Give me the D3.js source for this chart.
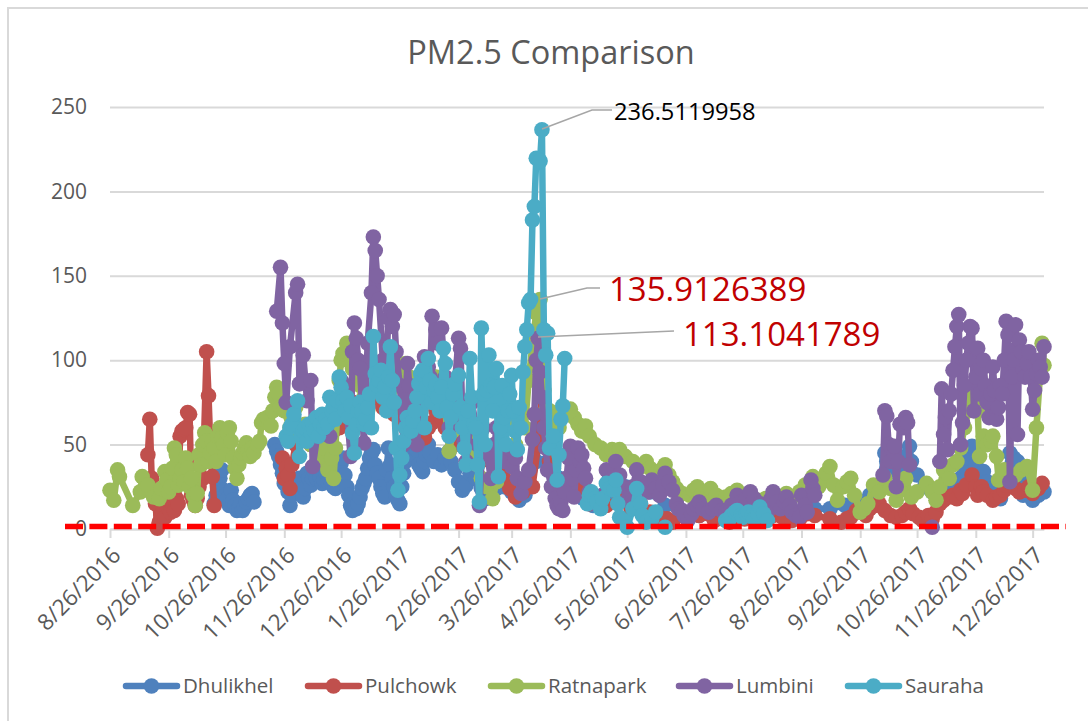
<!DOCTYPE html>
<html lang="en">
  <head>
    <meta charset="UTF-8">
    <title>PM2.5 Comparison</title>
    <script src="https://d3js.org/d3.v7.min.js"></script>
    <style>
      body { margin: 0; background-color: white; }
      svg { display: block; font-family: "Open Sans", sans-serif; }
    </style>
  </head>
  <body>
    <script>
      // readings are [days since 8/26/2016, PM2.5]; null = gap in the record
      const startDate = new Date(2016, 7, 26);
      const yTicks = [0, 50, 100, 150, 200, 250];
      const dateTicks = ["8/26/2016", "9/26/2016", "10/26/2016", "11/26/2016", "12/26/2016", "1/26/2017",
        "2/26/2017", "3/26/2017", "4/26/2017", "5/26/2017", "6/26/2017", "7/26/2017", "8/26/2017",
        "9/26/2017", "10/26/2017", "11/26/2017", "12/26/2017"];

      const dhulikhel = [[55,15],[56,20],[57,25],[58,30],[59,35],[60,23],[61,20],[62,18],[63,14],[64,23],[65,17],[66,14],[67,11],[68,12],
        [69,15],[70,11],[71,13],[72,16],[73,18],[74,20],[75,21],[76,16],[77,null],
        [87,50],[88,46],[89,43],[90,38],[91,33],[92,27],[93,30],[94,22],[95,14],[96,20],[97,28],[98,25],[99,22],[100,30],[101,24],[102,19],
        [103,24],[104,33],[105,30],[106,26],[107,30],[108,34],[109,30],[110,35],[111,31],[112,27],[113,29],[114,33],[115,28],[116,30],
        [117,27],[118,25],[119,24],[120,30],[121,36],[122,39],[123,42],[124,32],[125,25],[126,20],[127,14],[128,11],[129,13],[130,12],[131,15],
        [132,19],[133,24],[134,27],[135,30],[136,36],[137,42],[138,45],[139,47],[140,38],[141,33],[142,30],[143,25],[144,21],[145,19],[146,35],
        [147,48],[148,38],[149,30],[150,25],[151,20],[152,17],[153,15],[154,25],[155,33],[156,40],[157,44],[158,48],[159,46],[160,50],[161,44],[162,47],
        [163,38],[164,36],[165,34],[166,40],[167,44],[168,50],[169,45],[171,40],[173,44],[175,38],[177,42],[179,46],[180,40],[182,35],[184,28],[186,23],
        [188,26],[190,33],[193,30],[196,24],[198,18],[201,20],[204,24],[208,25],[212,22],[216,17],[219,20],[222,25],[225,40],[227,60],[228,80],
        [230,52],[231,40],[234,36],[237,30],[241,25],[245,20],[250,18],[255,14],[259,15],[265,18],[272,25],[278,24],[285,22],[293,14],[301,10],[311,8],[322,7],[332,9],
        [343,8],[353,10],[364,10],[372,12],[380,12],[388,14],[396,15],[401,20],[406,25],[409,45],[410,40],[412,35],[414,42],[417,30],[420,43],[422,49],[423,40],[426,32],[430,25],
        [434,22],[438,20],[443,27],[445,25],[447,28],[449,30],[451,35],[453,42],[455,49],[457,38],[459,30],[461,34],[463,28],[466,24],[470,18],[472,30],[475,45],[477,42],[479,40],[480,30],[482,20],[484,25],[487,17],[490,20],[493,22]];

      const pulchowk = [[20,44],[21,65],[22,30],[23,20],[24,15],[25,0.5],[26,4],[27,8],[28,10],[29,7],[30,13],[31,12],[32,10],[33,15],[34,11],[35,18],[36,15],[37,55],[38,58],[39,59],[40,60],
        [41,69],[42,68],[43,20],[44,17],[45,14],[46,18],[47,25],[49,30],[51,105],[52,79],[53,48],[54,31],[55,14],[56,null],
        [91,42],[92,30],[93,36],[94,32],[95,24],[96,38],[98,50],[100,60],[103,58],[106,50],[109,62],[111,55],[115,50],[118,58],[121,60],[124,68],[128,75],[132,72],[136,80],[140,76],[144,72],[147,74],[150,68],[153,65],[156,60],[158,58],[161,62],[164,56],[166,54],
        [168,60],[170,63],[172,70],[175,66],[177,60],[180,55],[182,50],[185,58],[188,48],[190,45],[195,50],[201,40],[205,34],[208,30],[211,24],[214,19],[218,22],[223,25],[226,50],[228,79],[230,58],[232,40],[236,28],[240,20],[243,26],[245,30],[249,22],
        [253,15],[257,18],[262,14],[269,18],[275,12],[280,15],[285,10],[290,7],[294,6],[297,4],[304,7],[311,8],[319,5],[327,4],[335,6],[343,5],[350,8],[355,7],[360,5],[364,6],[368,9],[372,8],[380,6],[386,4],[389,6],[391,7],
        [394,11],[396,10],[399,8],[401,12],[404,14],[406,15],[409,11],[412,8],[415,7],[418,8],[420,10],[422,12],[424,9],[427,7],[429,5],[432,8],[434,6],[436,10],[438,15],[440,17],[443,19],[445,20],[447,18],[449,23],[450,21],[452,26],
        [455,32],[457,25],[458,20],[460,25],[461,22],[463,20],[466,17],[468,19],[470,20],[472,23],[473,26],[476,28],[478,24],[480,22],[483,23],[485,25],[487,21],[490,24],[492,27]];

      const ratnapark = [[0,23],[2,17],[4,35],[5,31],[12,14],[16,22],[17,31],[20,26],[23,19],[26,18],[27,24],[29,34],[30,29],[31,22],[32,25],[33,36],[34,48],[35,44],[36,26],[37,30],[38,35],[39,28],[40,42],
        [41,36],[42,25],[43,30],[44,20],[45,14],[46,21],[47,44],[48,38],[49,50],[50,57],[51,52],[52,40],[53,45],[54,52],[55,48],[56,40],[57,55],[58,60],[59,54],[60,50],[61,44],[62,57],[63,60],[64,52],[65,42],[66,36],[67,30],
        [68,38],[69,42],[70,45],[71,48],[72,51],[73,46],[74,43],[75,48],[76,45],[78,50],[79,52],[80,63],[81,65],[83,66],[85,61],[86,70],[87,78],[88,84],[89,80],[90,72],
        [92,70],[95,60],[98,72],[100,55],[103,62],[106,50],[109,58],[111,40],[113,48],[115,35],[117,42],[118,30],[119,48],[120,70],[121,88],[122,100],[123,104],[125,110],[126,104],
        [128,95],[130,88],[132,85],[134,78],[136,70],[138,82],[140,95],[142,90],[145,88],[148,82],[150,92],[153,96],[156,98],[158,90],[161,85],[164,82],[166,75],[169,84],[172,90],[175,80],[177,70],[179,46],[181,58],
        [184,65],[187,60],[189,55],[191,50],[193,45],[194,38],[196,30],[199,25],[202,18],[204,28],[206,50],[208,65],[211,70],[214,50],[217,68],[219,60],[221,88],[223,110],[225,128],[227,136],
        [228,100],[229,82],[230,70],[232,70],[234,66],[237,60],[240,68],[243,71],[245,66],[247,62],[249,58],[251,61],[253,55],[256,50],[259,48],[262,44],[265,47],[267,45],[269,47],[272,43],[276,40],[279,36],[283,40],[285,36],
        [288,33],[291,35],[293,38],[295,32],[297,28],[299,24],[302,21],[306,20],[308,23],[310,25],[312,20],[314,18],[317,24],[320,20],[325,19],[328,21],[331,23],[334,20],[338,18],[342,17],[346,18],
        [351,20],[354,18],[357,21],[360,19],[364,22],[367,26],[371,31],[374,25],[376,28],[378,33],[380,37],[382,26],[384,17],[387,25],[389,28],[391,30],[393,20],[396,10],[398,12],[400,15],[403,26],
        [406,22],[409,30],[412,24],[415,17],[417,23],[420,30],[423,19],[426,22],[431,27],[434,22],[436,17],[438,25],[440,35],[443,30],[445,38],[447,40],[449,48],[451,60],[453,70],[455,80],[456,75],[458,70],
        [459,43],[461,55],[463,50],[465,52],[466,55],[468,43],[469,29],[472,35],[475,30],[478,32],[481,35],[484,37],[487,23],[489,60],[492,110],[493,97]];

      const lumbini = [[88,129],[90,155],[91,122],[92,98],[93,75],[95,108],[98,140],[99,145],[100,86],[102,103],[104,76],
        [106,88],[107,37],[110,60],[113,65],[116,55],[118,75],[120,70],[122,88],[124,85],[127,43],[128,105],[129,122],[130,113],[131,100],[132,95],
        [134,51],[136,110],[138,140],[139,173],[140,165],[141,150],[142,136],[144,100],[145,80],[147,125],[148,130],[149,120],
        [150,127],[151,105],[153,85],[155,50],[157,98],[158,85],[159,60],[161,72],[162,50],[164,75],[166,102],[168,96],[169,90],[170,126],[172,118],[173,110],
        [175,119],[177,90],[178,70],[179,60],[181,78],[182,85],[184,113],[185,107],[186,65],[187,52],[188,40],[190,60],[191,75],[193,62],[194,50],[195,14],[197,60],[199,45],
        [201,30],[203,50],[204,60],[206,52],[208,40],[210,48],[212,37],[214,42],[215,30],[217,21],[219,28],[221,35],[223,53],[224,68],[225,100],[226,113],[227,93],
        [228,78],[229,60],[230,48],[231,35],[233,25],[235,18],[236,14],[237,12],[238,16],[239,11],[240,22],[241,30],[242,42],[243,49],[244,30],[245,19],[246,35],[247,48],[248,40],[249,44],[250,36],[251,30],[253,22],
        [256,15],[258,18],[260,20],[262,35],[263,28],[265,30],[267,40],[269,32],[271,25],[273,17],[275,22],[276,25],[278,35],[280,28],[282,25],[284,22],[286,29],[288,24],[290,20],[292,26],
        [293,33],[295,28],[297,23],[299,15],[300,12],[302,11],[303,8],[305,5],[307,9],[308,12],[310,14],[311,16],[313,12],[316,10],[318,12],[320,14],[323,11],[325,10],[328,14],[331,20],[333,16],[334,12],[336,18],
        [338,22],[340,18],[343,15],[345,12],[347,10],[349,18],[350,22],[352,16],[354,12],[356,16],[357,19],[359,14],[360,10],[362,8],[364,7],[365,20],[367,14],[368,10],[370,29],[371,24],[372,20],[373,null],
        [408,32],[409,70],[410,67],[411,50],[412,40],[414,49],[415,25],[416,40],[417,62],[419,60],[420,66],[421,63],[422,38],[423,null],[434,1],[435,null],[438,40],[439,83],
        [440,56],[441,66],[442,47],[443,70],[444,80],[445,94],[446,108],[447,120],[448,127],[449,50],[450,63],[451,85],[452,100],[453,110],[454,120],[455,119],[456,70],
        [457,90],[458,107],[459,80],[460,95],[461,100],[462,85],[463,75],[464,66],[465,80],[466,96],[467,82],[468,65],[469,72],[470,85],[471,80],[472,100],[473,123],[474,115],[475,28],[476,90],[477,100],[478,121],
        [479,56],[480,112],[481,105],[482,95],[483,90],[484,98],[485,105],[486,90],[487,71],[488,82],[489,92],[490,100],[491,96],[492,90],[493,108]];

      const sauraha = [[93,55],[94,52],[95,60],[96,62],[97,68],[99,76],[100,43],[101,55],[102,58],[103,60],[104,52],[105,62],[106,57],[107,63],[108,58],[109,66],[110,55],[111,62],[112,68],[113,60],[114,65],[115,62],[116,78],[117,70],
        [118,72],[119,65],[120,76],[121,90],[122,84],[123,76],[124,70],[125,78],[126,66],[127,73],[128,57],[129,45],[130,62],[131,70],[132,75],[133,70],[134,62],[135,65],[136,72],[137,80],[138,60],[139,114],[140,92],[141,85],[142,88],[143,94],[144,78],[145,84],
        [146,70],[147,90],[148,108],[149,88],[150,75],[151,48],[152,23],[153,32],[154,42],[155,52],[156,60],[157,66],[158,62],[159,58],[160,64],[161,70],[162,78],[163,86],[164,92],[165,94],[166,60],[167,84],[168,101],[169,88],
        [170,75],[171,82],[172,85],[173,78],[174,70],[175,84],[176,107],[177,98],[178,72],[179,55],[180,66],[181,80],[182,86],[184,91],[185,72],[186,60],[187,48],[188,38],[189,70],[190,101],[191,78],[192,62],[193,60],[194,38],
        [195,16],[196,119],[197,80],[198,50],[199,82],[200,103],[201,85],[202,70],[203,84],[204,95],[205,31],[206,60],[207,85],[208,66],[209,50],[210,70],[211,80],[212,91],[213,70],[214,58],[215,47],[216,72],[217,60],
        [218,93],[219,108],[220,118],[221,134],[222,136],[223,183],[224,191],[225,219.6],[227,218],[228,236.5],[229,118],
        [230,103],[231,116],[232,48],[234,55],[236,29],[237,44],[238,65],[239,73],[240,101],[241,null],
        [252,15],[253,20],[254,22],[256,18],[257,16],[259,12],[260,18],[262,27],[264,24],[266,23],[267,29],[268,15],[269,7],[271,5],[273,1],[276,12],[278,24],[280,15],[281,8],[283,4],[286,6],[288,10],[289,null],
        [293,1],[294,null],
        [325,5],[327,6],[328,8],[330,10],[331,11],[333,8],[334,7],[336,9],[337,10],[339,8],[340,6],[342,9],[343,13],[345,9],[347,5]];

      const seriesNames = ["Dhulikhel", "Pulchowk", "Ratnapark", "Lumbini", "Sauraha"];
      const seriesValues = [dhulikhel, pulchowk, ratnapark, lumbini, sauraha];
      const seriesColors = ["#4F81BD", "#C0504D", "#9BBB59", "#8064A2", "#4BACC6"];
      const limitValue = 1.5;

      const w = 1088;
      const h = 721;
      const grey = "#595959";
      const dayToDate = (d) => d3.timeDay.offset(startDate, d);

      const svg = d3.select("body")
                    .append("svg")
                    .attr("width", w)
                    .attr("height", h);

      // chart frame, the crop only leaves top and left edges
      svg.append("polyline")
         .attr("points", "8,721 8,8 1088,8")
         .style("fill", "none")
         .style("stroke", "#D9D9D9")
         .style("stroke-width", 2);

      const xScale = d3.scaleTime()
                       .domain([startDate, dayToDate(493)])
                       .range([110, 1044]);

      const yScale = d3.scaleLinear()
                       .domain([0, 250])
                       .range([529, 107]);

      svg.append("text")
         .attr("x", 551).attr("y", 64)
         .style("text-anchor", "middle")
         .style("font-size", "32.5px")
         .style("fill", grey)
         .text("PM2.5 Comparison");

      // horizontal gridlines + y labels
      const yAxis = d3.axisLeft(yScale).tickValues(yTicks).tickSize(-934).tickPadding(23);
      const yG = svg.append("g").attr("transform", "translate(110,0)").call(yAxis);
      yG.attr("font-family", null);
      yG.select(".domain").remove();
      yG.selectAll("line").style("stroke", "#D9D9D9").style("stroke-width", 2);
      yG.selectAll("text").style("font-size", "21px").style("fill", grey);

      const xAxis = d3.axisBottom(xScale)
                      .tickValues(dateTicks.map((d) => d3.timeParse("%m/%d/%Y")(d)))
                      .tickFormat((d) => dateTicks[dateTicks.findIndex((t) => +d3.timeParse("%m/%d/%Y")(t) === +d)])
                      .tickSize(9)
                      .tickSizeOuter(0);
      const xG = svg.append("g").attr("transform", "translate(0,529)").call(xAxis);
      xG.attr("font-family", null);
      xG.select(".domain").style("stroke", "#D9D9D9").style("stroke-width", 2);
      xG.selectAll("line").style("stroke", "#D9D9D9").style("stroke-width", 2);
      xG.selectAll("text")
        .style("font-size", "22.5px")
        .style("fill", grey)
        .style("text-anchor", "end")
        .attr("x", 0)
        .attr("y", 0)
        .attr("dy", "0.35em")
        .attr("transform", "translate(6,22) rotate(-45)");

      const line = d3.line()
                     .defined((d) => d[1] !== null)
                     .x((d) => xScale(dayToDate(d[0])))
                     .y((d) => yScale(d[1]));

      seriesValues.forEach((values, i) => {
        const g = svg.append("g");
        g.append("path")
         .attr("d", line(values))
         .style("fill", "none")
         .style("stroke", seriesColors[i])
         .style("stroke-width", 6.5)
         .style("stroke-linejoin", "round")
         .style("stroke-linecap", "round");
        g.selectAll("circle")
         .data(values.filter((d) => d[1] !== null))
         .enter()
         .append("circle")
         .attr("cx", (d) => xScale(dayToDate(d[0])))
         .attr("cy", (d) => yScale(d[1]))
         .attr("r", 7.8)
         .style("fill", seriesColors[i]);
      });

      // red dashed limit line
      svg.append("line")
         .attr("x1", 65).attr("x2", 1066)
         .attr("y1", yScale(limitValue)).attr("y2", yScale(limitValue))
         .style("stroke", "#FF0000")
         .style("stroke-width", 5.5)
         .style("stroke-dasharray", "18 6.4");

      // data label callouts
      const callouts = [
        {points: [[542, 129], [592, 110], [612, 110]], text: "236.5119958", x: 614, y: 120, size: 23.7, color: "#000000"},
        {points: [[540, 299], [587, 288], [600, 288]], text: "135.9126389", x: 609, y: 301, size: 33, color: "#C00000"},
        {points: [[538, 337], [674, 331]], text: "113.1041789", x: 683, y: 346, size: 33, color: "#C00000"}
      ];
      callouts.forEach((c) => {
        svg.append("polyline")
           .attr("points", c.points.join(" "))
           .style("fill", "none")
           .style("stroke", "#A6A6A6")
           .style("stroke-width", 1.5);
        svg.append("text")
           .attr("x", c.x).attr("y", c.y)
           .style("font-size", c.size + "px")
           .style("fill", c.color)
           .text(c.text);
      });

      // legend
      const legendLeft = [124, 306, 489, 677, 846];
      const legend = svg.append("g");
      seriesNames.forEach((name, i) => {
        const x = legendLeft[i];
        legend.append("line")
              .attr("x1", x + 2).attr("x2", x + 53)
              .attr("y1", 686).attr("y2", 686)
              .style("stroke", seriesColors[i])
              .style("stroke-width", 6.5)
              .style("stroke-linecap", "round");
        legend.append("circle")
              .attr("cx", x + 27.5).attr("cy", 686)
              .attr("r", 7.8)
              .style("fill", seriesColors[i]);
        legend.append("text")
              .attr("x", x + 59).attr("y", 693)
              .style("font-size", "20.5px")
              .style("fill", grey)
              .text(name);
      });
    </script>
  </body>
</html>
